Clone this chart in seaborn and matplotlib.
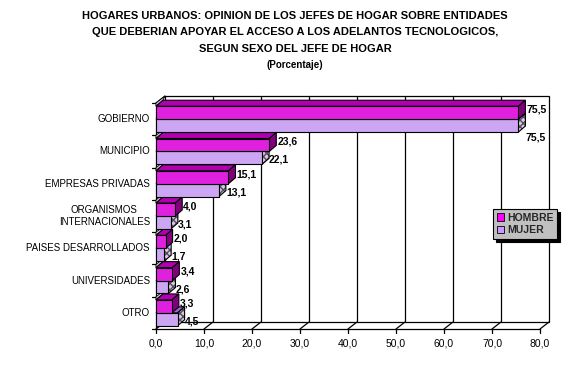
import matplotlib
matplotlib.use("Agg")
import matplotlib.pyplot as plt
import matplotlib.transforms as mtransforms
from matplotlib.patches import Polygon, Patch
import seaborn as sns
import pandas as pd

categories = ["GOBIERNO", "MUNICIPIO", "EMPRESAS PRIVADAS", "ORGANISMOS\nINTERNACIONALES",
              "PAISES DESARROLLADOS", "UNIVERSIDADES", "OTRO"]
hombre = [75.5, 23.6, 15.1, 4.0, 2.0, 3.4, 3.3]
mujer = [75.5, 22.1, 13.1, 3.1, 1.7, 2.6, 4.5]
series = ["HOMBRE", "MUJER"]
xticks = [0, 10, 20, 30, 40, 50, 60, 70, 80]
title_lines = ["HOGARES URBANOS: OPINION DE LOS JEFES DE HOGAR SOBRE ENTIDADES",
               "QUE DEBERIAN APOYAR EL ACCESO A LOS ADELANTOS TECNOLOGICOS,",
               "SEGUN SEXO DEL JEFE DE HOGAR"]
subtitle = "(Porcentaje)"

df = pd.DataFrame({
    "cat": categories * 2,
    "val": hombre + mujer,
    "sexo": [series[0]] * len(categories) + [series[1]] * len(categories),
})

sns.set_theme(style="white")
plt.rcParams["font.family"] = ["Liberation Sans", "DejaVu Sans"]

W, H = 579, 392
fig = plt.figure(figsize=(W / 100, H / 100), dpi=100)
fig.patch.set_facecolor("white")
ax_l, ax_r, ax_t, ax_b = 156, 540, 103, 329
ax = fig.add_axes([ax_l / W, 1 - ax_b / H, (ax_r - ax_l) / W, (ax_b - ax_t) / H])

front_cols = {"HOMBRE": "#FF00FF", "MUJER": "#CC99FF"}
top_cols = {"HOMBRE": "#B000B0", "MUJER": "#9966CC"}
side_cols = {"HOMBRE": "#800080", "MUJER": "#D8C8F0"}

sns.barplot(data=df, y="cat", x="val", hue="sexo", orient="h",
            palette=front_cols, width=0.8, edgecolor="black", linewidth=0.8,
            ax=ax, legend=False, zorder=3)
bars = list(ax.patches)
ax.set_xlim(0, 80)
ax.set_ylim(len(categories) - 0.5, -0.5)
ax.patch.set_alpha(0)
for s in ax.spines.values():
    s.set_visible(False)
ax.set_xlabel("")
ax.set_ylabel("")
ax.set_xticks([])
ax.set_yticks([])

ident = mtransforms.IdentityTransform()
# pixel offsets (display units; y up)
WDX, WDY = 9, 7
BDX, BDY = 7, 6


def disp(x, y):
    return ax.transData.transform((x, y))


def add_poly(pts, **kw):
    p = Polygon(pts, closed=True, transform=ident, clip_on=False, **kw)
    ax.add_artist(p)
    return p


def line_disp(pts, **kw):
    xs = [p[0] for p in pts]
    ys = [p[1] for p in pts]
    ax.add_artist(plt.Line2D(xs, ys, transform=ident, clip_on=False, **kw))


# back wall
y_top_d = disp(0, -0.5)[1]
y_bot_d = disp(0, len(categories) - 0.5)[1]
x0_d = disp(0, 0)[0]
x80_d = disp(80, 0)[0]
add_poly([(x0_d + WDX, y_bot_d + WDY), (x80_d + WDX, y_bot_d + WDY),
          (x80_d + WDX, y_top_d + WDY), (x0_d + WDX, y_top_d + WDY)],
         facecolor="white", edgecolor="black", linewidth=0.9, zorder=0.5)
for v in xticks[1:-1]:
    xd = disp(v, 0)[0]
    line_disp([(xd + WDX, y_bot_d + WDY), (xd + WDX, y_top_d + WDY)],
              color="black", linewidth=0.9, zorder=0.6)
# floor
line_disp([(x0_d, y_bot_d), (x80_d, y_bot_d)], color="black", linewidth=0.9, zorder=1)
for v in xticks:
    xd = disp(v, 0)[0]
    line_disp([(xd, y_bot_d), (xd + WDX, y_bot_d + WDY)], color="black", linewidth=0.9, zorder=1)
    line_disp([(xd, y_bot_d), (xd, y_bot_d - 4)], color="black", linewidth=0.9, zorder=1)
    fig.text(xd / W, (y_bot_d - 14) / H, f"{v:.1f}".replace(".", ","), ha="center", va="center",
             fontsize=7.5, color="black")
# left axis
line_disp([(x0_d, y_bot_d), (x0_d, y_top_d)], color="black", linewidth=0.9, zorder=1)
line_disp([(x0_d, y_top_d), (x0_d + WDX, y_top_d + WDY)], color="black", linewidth=0.9, zorder=1)
for i in range(len(categories) + 1):
    yd = disp(0, i - 0.5)[1]
    line_disp([(x0_d - 4, yd), (x0_d, yd)], color="black", linewidth=0.9, zorder=1)
for i, c in enumerate(categories):
    yd = disp(0, i)[1]
    fig.text((x0_d - 6) / W, yd / H, c, ha="right", va="center", fontsize=7,
             color="black", multialignment="center", linespacing=1.3)

# 3D bar faces
n = len(categories)
for k, p in enumerate(bars):
    sname = series[k // n]
    ci = k % n
    x0, y0 = p.get_x(), p.get_y()
    w, h = p.get_width(), p.get_height()
    (xl, yt) = disp(x0, y0)
    (xr, yb) = disp(x0 + w, y0 + h)
    z = 3 + (2 * n - (2 * ci + (k // n))) * 0.1
    p.set_zorder(z + 0.05)
    add_poly([(xl, yt), (xr, yt), (xr + BDX, yt + BDY), (xl + BDX, yt + BDY)],
             facecolor=top_cols[sname], edgecolor="black", linewidth=0.8, zorder=z)
    side_pts = [(xr, yb), (xr, yt), (xr + BDX, yt + BDY), (xr + BDX, yb + BDY)]
    if sname == "MUJER":
        add_poly(side_pts, facecolor=side_cols[sname], edgecolor="#505050",
                 hatch="xxxxx", linewidth=0, zorder=z)
        add_poly(side_pts, fill=False, edgecolor="black", linewidth=0.8, zorder=z + 0.01)
    else:
        add_poly(side_pts, facecolor=side_cols[sname], edgecolor="black", linewidth=0.8, zorder=z)

# gray wedges at left of each category
for ci in range(n):
    p = bars[ci]
    yb_cat = disp(0, ci - 0.5)[1]
    ybar = disp(0, p.get_y())[1]
    add_poly([(x0_d, yb_cat), (x0_d + WDX, yb_cat + WDY), (x0_d + BDX, ybar + BDY), (x0_d, ybar)],
             facecolor="#C8C8C8", edgecolor="black", linewidth=0.6, zorder=2.9)

# value labels
for k, p in enumerate(bars):
    sname = series[k // n]
    ci = k % n
    v = hombre[ci] if sname == "HOMBRE" else mujer[ci]
    xr = disp(p.get_x() + p.get_width(), 0)[0]
    yc = disp(0, p.get_y() + p.get_height() / 2)[1]
    if sname == "HOMBRE":
        tx, ty = xr + BDX + 1, yc + 3
    else:
        tx, ty = xr + BDX, yc - 2
        if hombre[ci] == mujer[ci]:
            ty = yc - 12
    fig.text(tx / W, ty / H, f"{v:.1f}".replace(".", ","), ha="left", va="center",
             fontsize=7.5, fontweight="bold", color="black", zorder=10)

# legend
handles = [Patch(facecolor=front_cols[s], edgecolor="black", linewidth=0.6, label=s) for s in series]
leg = fig.legend(handles=handles, loc="upper left", bbox_to_anchor=(493 / W, 1 - 209 / H),
                 frameon=True, fancybox=False, shadow={"color": "black", "alpha": 1},
                 borderaxespad=0, handlelength=0.7, handleheight=0.7, handletextpad=0.3,
                 borderpad=0.35, labelspacing=0.25, prop={"size": 7.5, "weight": "bold"})
fr = leg.get_frame()
fr.set_facecolor("#C0C0C0")
fr.set_edgecolor("black")
fr.set_linewidth(0.8)

# titles
ys = [15.7, 32.0, 49.3]
for t, yy in zip(title_lines, ys):
    fig.text(295 / W, 1 - yy / H, t, ha="center", va="center", fontsize=8.0,
             fontweight="bold", color="black")
fig.text(295 / W, 1 - 64.5 / H, subtitle, ha="center", va="center", fontsize=7.0,
         fontweight="bold", color="black")

fig.savefig("out.png", dpi=100)
